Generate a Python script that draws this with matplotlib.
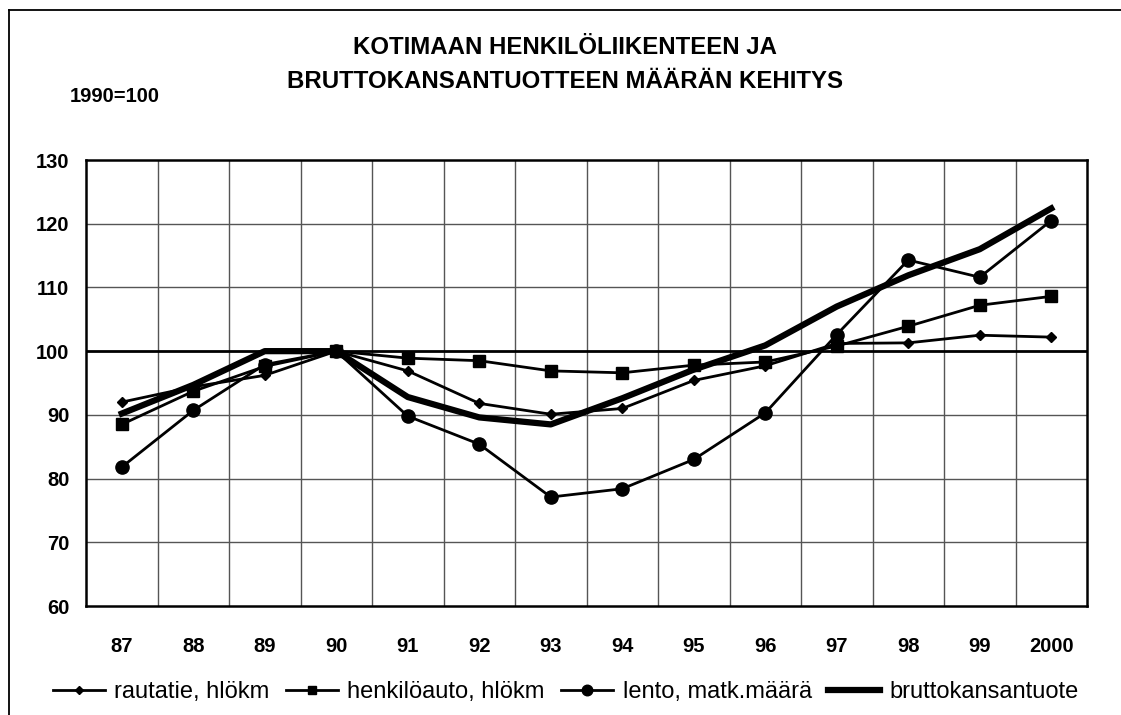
import matplotlib
matplotlib.use("Agg")
import matplotlib.pyplot as plt
from matplotlib.lines import Line2D

plt.rcParams['font.family'] = ['Liberation Sans', 'DejaVu Sans']

years = ['87', '88', '89', '90', '91', '92', '93', '94', '95', '96', '97', '98', '99', '2000']
rautatie = [92.0, 94.4, 96.2, 100, 96.9, 91.8, 90.1, 91.0, 95.4, 97.7, 101.2, 101.3, 102.5, 102.2]
henkiloauto = [88.5, 93.7, 97.6, 100, 98.9, 98.5, 96.9, 96.6, 97.8, 98.3, 100.8, 103.9, 107.2, 108.6]
lento = [81.8, 90.7, 97.9, 100, 89.8, 85.4, 77.1, 78.4, 83.0, 90.3, 102.6, 114.3, 111.6, 120.5]
bkt = [90.2, 94.7, 100, 100, 92.8, 89.6, 88.5, 92.6, 97.1, 100.9, 107.0, 111.9, 116.0, 122.4]
yticks = [60, 70, 80, 90, 100, 110, 120, 130]

W, H = 1121, 715
fig = plt.figure(figsize=(W/100, H/100), dpi=100)
ax = fig.add_axes([86/W, 1-606/H, 1001/W, 446/H])

x = list(range(len(years)))
ax.set_xlim(-0.5, len(years)-0.5)
ax.set_ylim(60, 130)

# grid
for i in range(1, len(years)):
    ax.axvline(i-0.5, color='#555555', lw=1.0, zorder=1)
for yv in yticks[1:-1]:
    if yv == 100:
        ax.axhline(yv, color='black', lw=2.0, zorder=1)
    else:
        ax.axhline(yv, color='#555555', lw=1.0, zorder=1)

ax.plot(x, rautatie, color='black', lw=2.0, marker='D', ms=5.5, label='rautatie, hlökm', zorder=3)
ax.plot(x, henkiloauto, color='black', lw=2.0, marker='s', ms=8, label='henkilöauto, hlökm', zorder=3)
ax.plot(x, lento, color='black', lw=2.0, marker='o', ms=9.5, label='lento, matk.määrä', zorder=3)
ax.plot(x, bkt, color='black', lw=4.5, label='bruttokansantuote', zorder=4)

ax.set_xticks(x)
ax.set_xticklabels(years, fontsize=14.5, fontweight='bold')
ax.set_yticks(yticks)
ax.set_yticklabels([str(v) for v in yticks], fontsize=14.5, fontweight='bold')
ax.tick_params(axis='y', length=0, pad=12)
ax.tick_params(axis='x', length=0, pad=22)
for s in ax.spines.values():
    s.set_linewidth(1.8)
    s.set_color('black')

fig.text(565/W, 1-47/H, 'KOTIMAAN HENKILÖLIIKENTEEN JA', ha='center', va='center',
         fontsize=17.3, fontweight='bold')
fig.text(565/W, 1-81/H, 'BRUTTOKANSANTUOTTEEN MÄÄRÄN KEHITYS', ha='center', va='center',
         fontsize=17.3, fontweight='bold')
fig.text(70/W, 1-97/H, '1990=100', ha='left', va='center', fontsize=14.5, fontweight='bold')

# outer frame (left and top edges visible)
fig.add_artist(Line2D([9/W, 9/W], [0, 1-10/H], transform=fig.transFigure, color='black', lw=1.3))
fig.add_artist(Line2D([9/W, 1], [1-10/H, 1-10/H], transform=fig.transFigure, color='black', lw=1.3))

leg = fig.legend(loc='center', bbox_to_anchor=(566/W, 1-692/H), ncol=4, frameon=False,
                 fontsize=17, handlelength=2.2, handletextpad=0.4, columnspacing=0.7,
                 markerscale=0.8, borderpad=0)

fig.savefig('out.png', dpi=100)
